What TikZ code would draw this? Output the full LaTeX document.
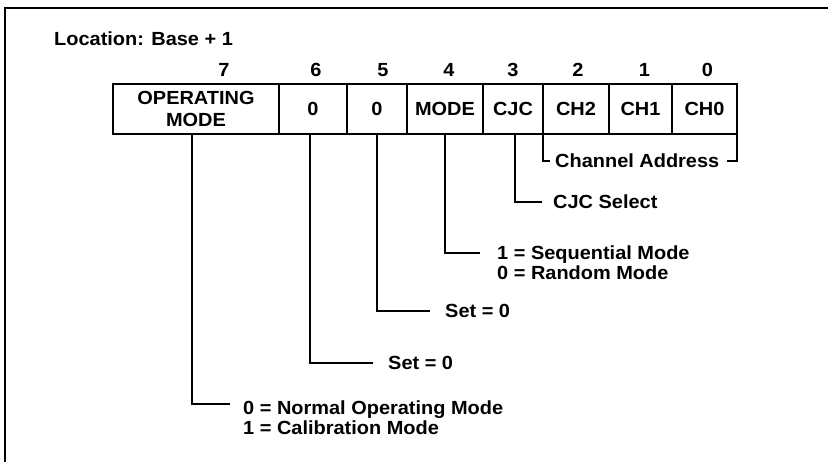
\documentclass[tikz,border=0pt]{standalone}
\usepackage{fontspec}
\setmainfont{Liberation Sans}[FakeStretch=1.05]
\usetikzlibrary{positioning}

\begin{document}
\begin{tikzpicture}[
        x=1pt, y=-1pt,
        font=\fontsize{19}{20}\selectfont\bfseries,
        cell/.style={draw, line width=2pt, outer sep=0pt, inner sep=0pt, minimum height=50pt, align=center},
        bitno/.style={inner sep=0pt},
        lbl/.style={inner sep=0pt, anchor=west, align=left},
        lead/.style={line width=2pt}
    ]
        \useasboundingbox (0,0) rectangle (828,462);
        \draw[line width=2pt] (5,462) -- (5,8) -- (828,8);

        \node[lbl] (location) at (54,39) {Location: Base + 1};

        \node[cell, minimum width=166pt, anchor=north west] (b7) at (113,84) {OPERATING\\[2pt]MODE};
        \node[cell, minimum width=68pt, right=0pt of b7] (b6) {0};
        \node[cell, minimum width=60pt, right=0pt of b6] (b5) {0};
        \node[cell, minimum width=76pt, right=0pt of b5] (b4) {MODE};
        \node[cell, minimum width=60pt, right=0pt of b4] (b3) {CJC};
        \node[cell, minimum width=66pt, right=0pt of b3] (b2) {CH2};
        \node[cell, minimum width=63pt, right=0pt of b2] (b1) {CH1};
        \node[cell, minimum width=65pt, right=0pt of b1] (b0) {CH0};

        \node[bitno] (n7) at ([xshift=28pt, yshift=14pt]b7.north) {7};
        \node[bitno] (n6) at ([xshift=3pt, yshift=14pt]b6.north) {6};
        \node[bitno] (n5) at ([xshift=6pt, yshift=14pt]b5.north) {5};
        \node[bitno] (n4) at ([xshift=4pt, yshift=14pt]b4.north) {4};
        \node[bitno] (n3) at ([xshift=0pt, yshift=14pt]b3.north) {3};
        \node[bitno] (n2) at ([xshift=2pt, yshift=14pt]b2.north) {2};
        \node[bitno] (n1) at ([xshift=4pt, yshift=14pt]b1.north) {1};
        \node[bitno] (n0) at ([xshift=3pt, yshift=14pt]b0.north) {0};

        \node[lbl] (chan) at (555,161) {Channel Address};
        \node[lbl] (cjc) at (553,202) {CJC Select};
        \node[lbl, anchor=north west] (mode) at (497,246) {1 = Sequential Mode\\0 = Random Mode};
        \node[lbl] (set5) at (445,311) {Set = 0};
        \node[lbl] (set6) at (388,363) {Set = 0};
        \node[lbl, anchor=north west] (opmode) at (243,401) {0 = Normal Operating Mode\\1 = Calibration Mode};

        \draw[lead, shorten >=5pt] (b2.south west) |- (chan.west);
        \draw[lead, shorten >=8pt] (b0.south east) |- (chan.east);
        \draw[lead, shorten >=11pt] ([xshift=2pt]b3.south) |- (cjc.west);
        \draw[lead, shorten >=17pt] (b4.south) |- ([yshift=-7pt]mode.north west);
        \draw[lead, shorten >=15pt] (b5.south) |- (set5.west);
        \draw[lead, shorten >=15pt] ([xshift=-3pt]b6.south) |- (set6.west);
        \draw[lead, shorten >=13pt] ([xshift=-4pt]b7.south) |- ([yshift=-3pt]opmode.north west);
    \end{tikzpicture}
\end{document}
